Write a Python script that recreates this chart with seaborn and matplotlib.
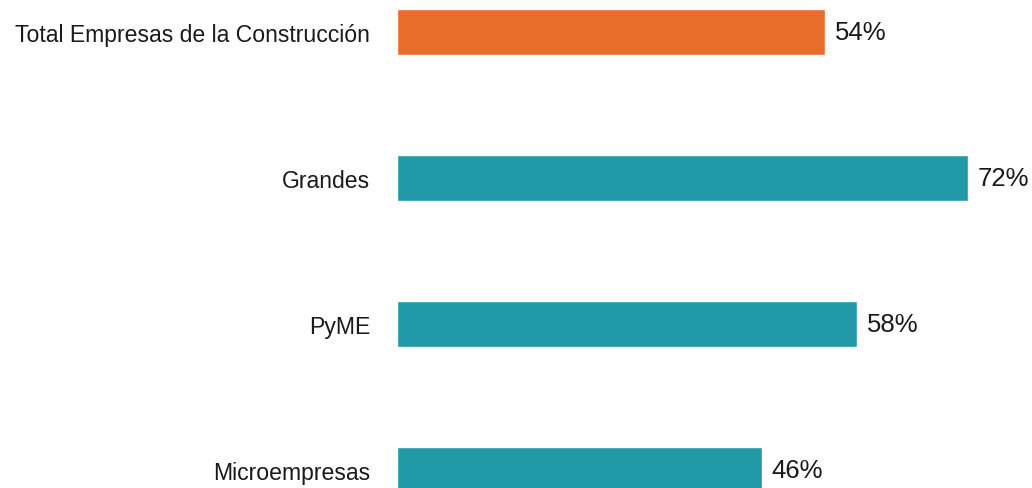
import matplotlib
matplotlib.use("Agg")
import matplotlib.pyplot as plt
import seaborn as sns
import pandas as pd

categories = ["Total Empresas de la Construcción", "Grandes", "PyME", "Microempresas"]
values = [54, 72, 58, 46]
colors = ["#E86C2A", "#2199A6", "#2199A6", "#2199A6"]

df = pd.DataFrame({"cat": categories, "val": values})

sns.set_theme(style="white")
plt.rcParams["font.family"] = ["Liberation Sans", "DejaVu Sans"]

fig = plt.figure(figsize=(10.32, 4.89), dpi=100)
ax = fig.add_axes([397 / 1032, 0, 1 - 397 / 1032, 1])
sns.barplot(data=df, y="cat", x="val", hue="cat", palette=colors, orient="h",
            width=0.315, legend=False, ax=ax, saturation=1)
ax.set_xlim(0, 635 / 7.93)
ax.set_ylim(3 + 18 / 146, -33 / 146)
for spine in ax.spines.values():
    spine.set_visible(False)
ax.set_xticks([])
ax.set_xlabel("")
ax.set_ylabel("")
ax.tick_params(axis="y", length=0, pad=19.5, labelsize=16.6, labelcolor="#1a1a1a")
for i, v in enumerate(values):
    ax.annotate(f"{v}%", xy=(v, i), xytext=(10, 0), textcoords="offset pixels",
                va="center", ha="left", fontsize=18.5, color="#1a1a1a")
fig.savefig("out.png", dpi=100)
